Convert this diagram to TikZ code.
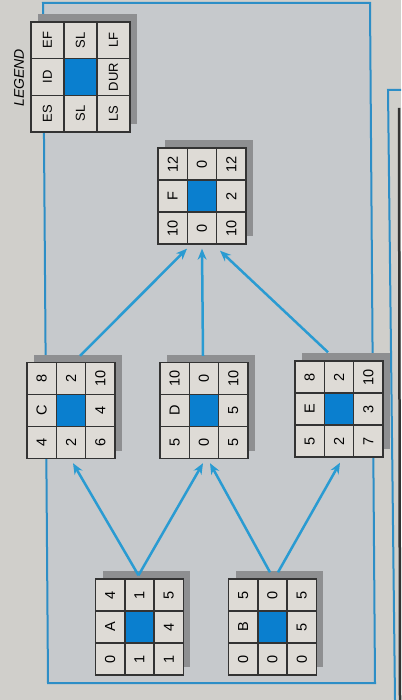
\documentclass[tikz,border=0pt]{standalone}
\usepackage{fontspec}
\setmainfont{Liberation Sans}
\usetikzlibrary{arrows.meta}
\definecolor{pagegray}{HTML}{D0CFCB}
\definecolor{panelgray}{HTML}{C6C9CC}
\definecolor{framecol}{HTML}{2D8EC6}
\definecolor{flowcol}{HTML}{2A9BD2}
\definecolor{slackblue}{HTML}{0A7FCF}
\definecolor{cellcol}{HTML}{DEDBD6}
\definecolor{shadowcol}{HTML}{8E8F91}
\definecolor{linecol}{HTML}{333333}

\def\cw{29.3}
\def\ch{32}
\def\cellfont{\fontsize{14.5}{16}\selectfont}
\newcommand{\actbox}[9]{%
  \begin{scope}[shift={(#2)}]
    \pgfmathsetmacro{\bw}{3*\cw}
    \pgfmathsetmacro{\bh}{3*\ch}
    \fill[shadowcol] (-1.5*\cw+7,-1.5*\ch-8) rectangle (1.5*\cw+7,1.5*\ch-8);
    \node[boxgrid,minimum width=\bw pt,minimum height=\bh pt] (#1) at (0,0) {};
    \fill[slackblue] (-0.5*\cw,-0.5*\ch) rectangle (0.5*\cw,0.5*\ch);
    \foreach \k in {-0.5,0.5} {
      \draw[gridline] (\k*\cw,-1.5*\ch) -- (\k*\cw,1.5*\ch);
      \draw[gridline] (-1.5*\cw,\k*\ch) -- (1.5*\cw,\k*\ch);
    }
    \node[celltext] at (-\cw,\ch) {#3};
    \node[celltext] at (-\cw,0) {#4};
    \node[celltext] at (-\cw,-\ch) {#5};
    \node[celltext] at (0,\ch) {#6};
    \node[celltext] at (0,-\ch) {#6};
    \node[celltext] at (\cw,\ch) {#7};
    \node[celltext] at (\cw,0) {#8};
    \node[celltext] at (\cw,-\ch) {#9};
  \end{scope}}

\begin{document}
\begin{tikzpicture}[x=1pt,y=-1pt,
    boxgrid/.style={draw=linecol,fill=cellcol,line width=1.4pt,inner sep=0pt},
    gridline/.style={draw=linecol,line width=1.4pt},
    celltext/.style={rotate=90,font=\cellfont,inner sep=0pt},
    flow/.style={draw=flowcol,line width=2.5pt,-{Stealth[length=11pt,width=9pt]}},
    legendlabel/.style={rotate=90,font=\fontsize{14}{16}\selectfont\itshape,inner sep=0pt}]
  \useasboundingbox (0,0) rectangle (401,700);
  \fill[pagegray] (0,0) rectangle (401,700);
  \filldraw[fill=panelgray,draw=framecol,line width=2pt]
    (43,3) -- (370,3) -- (375,683) -- (48,683) -- cycle;
  \draw[framecol,line width=2pt] (401,90) -- (388,90) -- (395,700);
  \draw[linecol,line width=2.5pt] (399,108) -- (400,700);

  \node[legendlabel] (legendtitle) at (19,78) {LEGEND};
  \begin{scope}
    \def\cw{33}
    \def\ch{36.7}
    \def\cellfont{\fontsize{13}{15}\selectfont}
    \actbox{legend}{80.5,77}{ES}{ID}{EF}{SL}{LS}{DUR}{LF}
  \end{scope}

  \actbox{F}{202,196}{10}{F}{12}{0}{10}{2}{12}
  \actbox{C}{71,410.5}{4}{C}{8}{2}{6}{4}{10}
  \actbox{D}{204,410.5}{5}{D}{10}{0}{5}{5}{10}
  \actbox{E}{339,409}{5}{E}{8}{2}{7}{3}{10}
  \actbox{A}{139.5,627}{0}{A}{4}{1}{1}{4}{5}
  \actbox{B}{272.5,627}{0}{B}{5}{0}{0}{5}{5}

  \draw[flow] ([shift={(-1,-3)}]A.north) -- ([shift={(2,4)}]C.south);
  \draw[flow] ([shift={(-1,-3)}]A.north) -- ([shift={(-1,4)}]D.south);
  \draw[flow] ([shift={(-2.5,-6)}]B.north) -- ([shift={(6,4)}]D.south);
  \draw[flow] ([shift={(5.5,-6)}]B.north) -- ([shift={(1,5)}]E.south);
  \draw[flow] ([shift={(9,-6)}]C.north) -- ([shift={(-15,4)}]F.south);
  \draw[flow] ([shift={(-1,-6)}]D.north) -- ([shift={(0,4)}]F.south);
  \draw[flow] ([shift={(-11,-8)}]E.north) -- ([shift={(18,6)}]F.south);
\end{tikzpicture}
\end{document}
